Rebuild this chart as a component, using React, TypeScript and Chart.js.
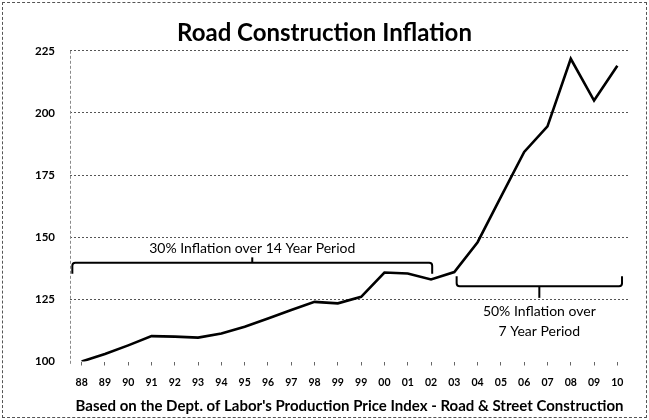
import React, { useEffect, useRef } from 'react';
import { Chart, registerables } from 'chart.js';

Chart.register(...registerables);

// ---- data ----
const yearLabels = ['88', '89', '90', '91', '92', '93', '94', '95', '96', '97', '98', '99', '99', '00', '01', '02', '03', '04', '05', '06', '07', '08', '09', '10'];
const priceIndex = [100, 103, 106.5, 110.2, 110, 109.6, 111.3, 114, 117.3, 120.7, 124, 123.4, 126, 135.8, 135.4, 133, 136, 148, 166.2, 184.3, 194.6, 221.8, 205, 219];
const yMin = 100;
const yMax = 225;
const yStep = 25;
const chartTitle = 'Road Construction Inflation';
const xAxisTitle = "Based on the Dept. of Labor's Production Price Index - Road & Street Construction";

// brackets: category index range, levels (in index units)
const bracketFrom = [-0.4, 16.1];
const bracketTo = [15.05, 23.2];
const bracketEndLevel = [135.3, 134.3];
const bracketBarLevel = [139.7, 130.3];
const bracketTickLevel = [141.9, 125.6];
const bracketText = [['30% Inflation over 14 Year Period'], ['50% Inflation over', '7 Year Period']];
const bracketTextLevel = [[145.4], [120, 112]];

const bracketPlugin = {
  id: 'brackets',
  beforeDatasetsDraw(chart: any) {
    const { ctx, chartArea, scales } = chart;
    const y = scales.y;
    ctx.save();
    ctx.strokeStyle = '#8a8a8a';
    ctx.lineWidth = 1;
    ctx.setLineDash([3, 2]);
    ctx.beginPath();
    ctx.moveTo(chartArea.left + 0.5, y.getPixelForValue(yMax));
    ctx.lineTo(chartArea.left + 0.5, chartArea.bottom + 4);
    ctx.stroke();
    ctx.restore();
  },
  afterDatasetsDraw(chart: any) {
    const { ctx, scales } = chart;
    const x = scales.x;
    const y = scales.y;
    ctx.save();
    ctx.strokeStyle = '#000';
    ctx.lineWidth = 2;
    ctx.lineJoin = 'round';
    ctx.lineCap = 'butt';
    for (let i = 0; i < bracketFrom.length; i++) {
      const x0 = x.getPixelForValue(bracketFrom[i]);
      const x1 = x.getPixelForValue(bracketTo[i]);
      const xm = (x0 + x1) / 2;
      const yEnd = y.getPixelForValue(bracketEndLevel[i]);
      const yBar = y.getPixelForValue(bracketBarLevel[i]);
      const yTick = y.getPixelForValue(bracketTickLevel[i]);
      ctx.beginPath();
      ctx.moveTo(x0, yEnd);
      ctx.arcTo(x0, yBar, x0 + 4, yBar, 3);
      ctx.arcTo(x1, yBar, x1, yEnd, 3);
      ctx.lineTo(x1, yEnd);
      ctx.stroke();
      ctx.beginPath();
      ctx.moveTo(xm, yBar);
      ctx.lineTo(xm, yTick);
      ctx.stroke();
      ctx.fillStyle = '#000';
      ctx.font = '14px Lato';
      ctx.textAlign = 'center';
      ctx.textBaseline = 'middle';
      bracketText[i].forEach((t, j) => {
        ctx.fillText(t, xm, y.getPixelForValue(bracketTextLevel[i][j]));
      });
    }
    ctx.restore();
  },
};

export default function App() {
  const canvasRef = useRef<HTMLCanvasElement>(null);

  useEffect(() => {
    if (!canvasRef.current) return;
    Chart.defaults.font.family = 'Lato';
    const chart = new Chart(canvasRef.current, {
      type: 'line',
      data: {
        labels: yearLabels,
        datasets: [
          {
            data: priceIndex,
            borderColor: '#000',
            borderWidth: 2.6,
            pointRadius: 0,
            tension: 0,
            fill: false,
          },
        ],
      },
      options: {
        responsive: false,
        animation: false,
        layout: { padding: { left: 20, right: 20, top: 0, bottom: 0 } },
        plugins: {
          legend: { display: false },
          tooltip: { enabled: false },
          title: {
            display: true,
            text: chartTitle,
            color: '#000',
            font: { family: 'Lato', size: 24, weight: 'bold' },
            padding: { top: 19, bottom: 3 },
          },
        },
        scales: {
          x: {
            offset: true,
            afterFit: (scale: any) => {
              scale.height = 58.5;
            },
            grid: {
              offset: false,
              drawOnChartArea: false,
              tickLength: 4,
              tickColor: '#666',
              tickWidth: 1,
            },
            border: { display: false },
            ticks: {
              autoSkip: false,
              maxRotation: 0,
              padding: 11,
              color: '#000',
              font: { family: 'Lato', size: 10.5, weight: 'bold' },
            },
            title: {
              display: true,
              text: xAxisTitle,
              color: '#000',
              font: { family: 'Lato', size: 15, weight: 'bold' },
              padding: { top: 4, bottom: 5 },
            },
          },
          y: {
            min: yMin,
            max: yMax,
            afterFit: (scale: any) => {
              scale.width = 50;
            },
            ticks: {
              stepSize: yStep,
              padding: 15,
              color: '#000',
              font: { family: 'Lato', size: 11.5, weight: 'bold' },
            },
            grid: {
              drawTicks: false,
              lineWidth: 1,
              color: (c: any) => (c.tick && c.tick.value === yMin ? 'rgba(0,0,0,0)' : '#555'),
            },
            border: { display: false, dash: [2, 2] },
          },
        },
      },
      plugins: [bracketPlugin],
    });
    return () => chart.destroy();
  }, []);

  return (
    <div style={{ position: 'absolute', left: 0, top: 0, width: 649, height: 420, background: '#fff' }}>
      <canvas ref={canvasRef} width={649} height={420} style={{ display: 'block' }} />
      <div
        style={{
          position: 'absolute',
          left: 2,
          top: 2,
          width: 645,
          height: 416,
          boxSizing: 'border-box',
          border: '1px dashed #555',
          pointerEvents: 'none',
        }}
      />
    </div>
  );
}
